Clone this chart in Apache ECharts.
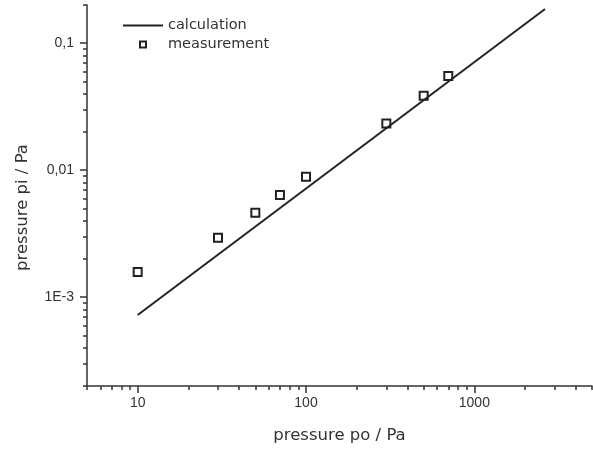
<!DOCTYPE html>
<html>
<head>
<meta charset="utf-8">
<script src="https://cdn.jsdelivr.net/npm/echarts@6/dist/echarts.min.js"></script>
<style>html,body{margin:0;padding:0;background:#fff}#c{width:593px;height:450px}</style>
</head>
<body>
<div id="c"></div>
<script>
// Data
var measPo = [10, 30, 50, 70, 100, 300, 500, 700];
var measPi = [0.00158, 0.00294, 0.00463, 0.00638, 0.00889, 0.0233, 0.0386, 0.0552];
var calcPo = [10, 2630];
var calcPi = [0.000724, 0.186];

var xMajorTicks = [10, 100, 1000];
var xMajorLabels = ['10', '100', '1000'];
var xMinorTicks = [5, 6, 7, 8, 9, 20, 30, 40, 50, 60, 70, 80, 90, 200, 300, 400, 500, 600, 700, 800, 900, 2000, 3000, 4000, 5000];
var yMajorTicks = [0.001, 0.01, 0.1];
var yMajorLabels = ['1E-3', '0,01', '0,1'];
var yMinorTicks = [0.0002, 0.0003, 0.0004, 0.0005, 0.0006, 0.0007, 0.0008, 0.0009,
  0.002, 0.003, 0.004, 0.005, 0.006, 0.007, 0.008, 0.009,
  0.02, 0.03, 0.04, 0.05, 0.06, 0.07, 0.08, 0.09, 0.2];

var TICKFONT = 'Liberation Sans';
var TITLEFONT = 'DejaVu Sans';
var AX = '#333';
function labelOf(vals, labels, v) {
  for (var i = 0; i < vals.length; i++) {
    if (Math.abs(Math.log10(vals[i]) - Math.log10(v)) < 1e-6) return labels[i];
  }
  return '';
}

var chart = echarts.init(document.getElementById('c'), null, {renderer: 'canvas'});
chart.setOption({
  animation: false,
  backgroundColor: '#fff',
  textStyle: {fontFamily: TICKFONT},
  grid: {left: 87, right: 1, top: 5, bottom: 64, containLabel: false},
  legend: {
    orient: 'vertical', left: 123, top: 18, padding: 0, itemWidth: 40, itemHeight: 8, itemGap: 4,
    textStyle: {fontFamily: TITLEFONT, fontSize: 14.5, color: '#333', padding: [0, 0, 0, 0]},
    data: [
      {name: 'calculation', icon: 'path://M0,3 L40,3 L40,5 L0,5 Z', itemStyle: {color: '#222', borderWidth: 0}},
      {name: 'measurement', icon: 'path://M0,4 L0,4 M40,4 L40,4 M16,0 L24,0 L24,8 L16,8 Z M18,2 L18,6 L22,6 L22,2 Z',
        itemStyle: {color: '#222', borderWidth: 0}}
    ]
  },
  xAxis: [{
    type: 'log', logBase: 10, min: 5, max: 5000,
    axisLine: {show: true, lineStyle: {color: AX, width: 1.5}},
    axisTick: {show: true, length: 7, inside: false, customValues: xMajorTicks, lineStyle: {color: AX, width: 1.5}},
    axisLabel: {show: true, customValues: xMajorTicks, margin: 10, fontSize: 14, color: '#333', fontFamily: TICKFONT,
      formatter: function (v) { return labelOf(xMajorTicks, xMajorLabels, v); }},
    splitLine: {show: false},
    name: 'pressure po / Pa', nameLocation: 'middle', nameGap: 41,
    nameTextStyle: {fontSize: 16.5, color: '#333', fontFamily: TITLEFONT}
  }, {
    type: 'log', logBase: 10, min: 5, max: 5000, position: 'bottom',
    axisLine: {show: false},
    axisTick: {show: true, length: 4, inside: false, customValues: xMinorTicks, lineStyle: {color: AX, width: 1.5}},
    axisLabel: {show: false},
    splitLine: {show: false}
  }],
  yAxis: [{
    type: 'log', logBase: 10, min: 0.0002, max: 0.2,
    axisLine: {show: true, lineStyle: {color: AX, width: 1.5}},
    axisTick: {show: true, length: 7, inside: false, customValues: yMajorTicks, lineStyle: {color: AX, width: 1.5}},
    axisLabel: {show: true, customValues: yMajorTicks, margin: 13, fontSize: 14, color: '#333', fontFamily: TICKFONT,
      formatter: function (v) { return labelOf(yMajorTicks, yMajorLabels, v); }},
    splitLine: {show: false},
    name: 'pressure pi / Pa', nameLocation: 'middle', nameGap: 56, nameRotate: 90,
    nameTextStyle: {fontSize: 16.5, color: '#333', fontFamily: TITLEFONT, padding: [0, 24, 0, 0]}
  }, {
    type: 'log', logBase: 10, min: 0.0002, max: 0.2, position: 'left',
    axisLine: {show: false},
    axisTick: {show: true, length: 4, inside: false, customValues: yMinorTicks, lineStyle: {color: AX, width: 1.5}},
    axisLabel: {show: false},
    splitLine: {show: false}
  }],
  series: [{
    name: 'calculation', type: 'line', xAxisIndex: 0, yAxisIndex: 0,
    symbol: 'none', showSymbol: false,
    lineStyle: {color: '#222', width: 2},
    itemStyle: {color: '#222'},
    data: calcPo.map(function (x, i) { return [x, calcPi[i]]; })
  }, {
    name: 'measurement', type: 'scatter', xAxisIndex: 0, yAxisIndex: 0,
    symbol: 'rect', symbolSize: 8,
    itemStyle: {color: '#fff', borderColor: '#222', borderWidth: 2, opacity: 1},
    data: measPo.map(function (x, i) { return [x, measPi[i]]; })
  }]
});
</script>
</body>
</html>
